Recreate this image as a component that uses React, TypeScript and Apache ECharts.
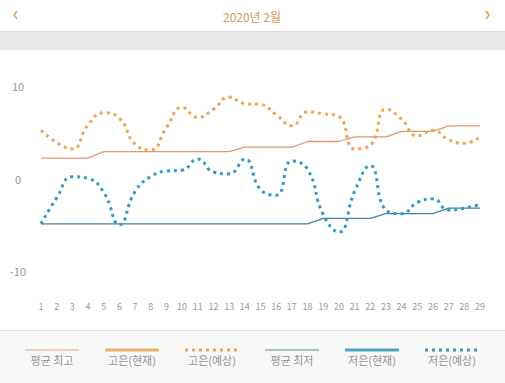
import React, { useEffect, useRef } from "react";
import * as echarts from "echarts";

const days = Array.from({ length: 29 }, (_, i) => String(i + 1));
const avgHigh = [2.2, 2.2, 2.2, 2.2, 2.9, 2.9, 2.9, 2.9, 2.9, 2.9, 2.9, 2.9, 2.9, 3.4, 3.4, 3.4, 3.4, 4.0, 4.0, 4.0, 4.5, 4.5, 4.5, 5.1, 5.1, 5.1, 5.7, 5.7, 5.7];
const highForecast = [5.2, 3.9, 3.2, 5.8, 7.1, 6.5, 3.7, 3.1, 5.5, 7.7, 6.6, 7.5, 8.8, 8.1, 8.0, 6.9, 5.7, 7.2, 7.0, 6.7, 3.2, 3.6, 7.5, 6.4, 4.6, 5.2, 4.2, 3.8, 4.5];
const avgLow = [-4.9, -4.9, -4.9, -4.9, -4.9, -4.9, -4.9, -4.9, -4.9, -4.9, -4.9, -4.9, -4.9, -4.9, -4.9, -4.9, -4.9, -4.9, -4.3, -4.3, -4.3, -4.3, -3.8, -3.8, -3.8, -3.8, -3.2, -3.2, -3.2];
const lowForecast = [-4.9, -2.1, 0.2, 0.0, -1.5, -5.0, -1.4, 0.2, 0.8, 0.9, 2.1, 0.7, 0.5, 2.1, -1.2, -1.8, 1.9, 1.0, -3.9, -5.8, -1.4, 1.4, -3.4, -3.8, -2.6, -2.2, -3.4, -3.2, -2.8];
const yTicks = [-10, 0, 10];
const title = "2020년 2월";
const legendNames = ["평균 최고", "고은(현재)", "고은(예상)", "평균 최저", "저은(현재)", "저은(예상)"];

const C_AVG_HIGH = "#e3956a";
const C_HIGH_NOW = "#e9b06d";
const C_HIGH_FC = "#eea450";
const C_AVG_LOW = "#4a819c";
const C_LOW_NOW = "#4aa6c0";
const C_LOW_FC = "#2f9bc9";

const FONT = "'Noto Sans CJK KR', Lato, sans-serif";

export default function App() {
  const ref = useRef<HTMLDivElement>(null);
  useEffect(() => {
    document.body.style.margin = "0";
    const chart = echarts.init(ref.current!, null, { renderer: "svg" });
    const legendStyles = [
      { color: "#e0a27e", width: 1.2, type: "solid" },
      { color: C_HIGH_NOW, width: 3, type: "solid" },
      { color: C_HIGH_FC, width: 3, type: "dotted" },
      { color: "#5a8598", width: 1.2, type: "solid" },
      { color: C_LOW_NOW, width: 3, type: "solid" },
      { color: "#3f9ab5", width: 3, type: "dotted" },
    ];
    const legendGraphics: any[] = [];
    legendNames.forEach((name, i) => {
      const cx = 52 + i * 80;
      const st = legendStyles[i];
      legendGraphics.push({
        type: "line",
        shape: { x1: cx - 27, y1: 350, x2: cx + 27, y2: 350 },
        style: {
          stroke: st.color,
          lineWidth: st.width,
          lineDash: st.type === "dotted" ? [3, 4] : null,
        },
        silent: true,
      });
      legendGraphics.push({
        type: "text",
        x: cx,
        y: 360,
        style: {
          text: name,
          fill: "#939393",
          font: `11px ${FONT}`,
          align: "center",
          verticalAlign: "middle",
        },
      });
    });
    chart.setOption({
      animation: false,
      backgroundColor: "#ffffff",
      grid: { left: 41, right: 25, top: 86, bottom: 112 },
      xAxis: {
        type: "category",
        data: days,
        boundaryGap: false,
        axisLine: { show: false },
        axisTick: { show: false },
        axisLabel: {
          interval: 0,
          margin: 31,
          color: "#9a9a9a",
          fontSize: 9,
          fontFamily: FONT,
        },
        splitLine: { show: false },
      },
      yAxis: {
        type: "value",
        min: yTicks[0],
        max: yTicks[yTicks.length - 1],
        interval: 10,
        axisLine: { show: false },
        axisTick: { show: false },
        splitLine: { show: false },
        axisLabel: {
          align: "center",
          margin: 23,
          color: "#999999",
          fontSize: 11,
          fontFamily: FONT,
        },
      },
      graphic: [
        { type: "rect", shape: { x: 0, y: 31, width: 505, height: 19 }, style: { fill: "#e9e9e9" }, silent: true },
        { type: "line", shape: { x1: 0, y1: 31.5, x2: 505, y2: 31.5 }, style: { stroke: "#d9d9d9", lineWidth: 1 }, silent: true },
        { type: "rect", shape: { x: 0, y: 330, width: 505, height: 53 }, style: { fill: "#f8f8f8" }, silent: true },
        { type: "line", shape: { x1: 0, y1: 330.5, x2: 505, y2: 330.5 }, style: { stroke: "#e6e6e6", lineWidth: 1 }, silent: true },
        {
          type: "text", x: 252, y: 16,
          style: { text: title, fill: "#d69a55", font: `12px ${FONT}`, align: "center", verticalAlign: "middle" },
        },
        {
          type: "polyline", shape: { points: [[17, 11], [14, 15], [17, 19]] },
          style: { stroke: "#dca665", lineWidth: 1.6, fill: null },
        },
        {
          type: "polyline", shape: { points: [[486, 11], [489, 15], [486, 19]] },
          style: { stroke: "#dca665", lineWidth: 1.6, fill: null },
        },
        ...legendGraphics,
      ],
      series: [
        {
          name: legendNames[0], type: "line", data: avgHigh, symbol: "none",
          lineStyle: { color: C_AVG_HIGH, width: 1.3 },
        },
        {
          name: legendNames[2], type: "line", data: highForecast, symbol: "none", smooth: 0.5,
          lineStyle: { color: C_HIGH_FC, width: 3, type: [3, 4] },
        },
        {
          name: legendNames[3], type: "line", data: avgLow, symbol: "none",
          lineStyle: { color: C_AVG_LOW, width: 1.3 },
        },
        {
          name: legendNames[5], type: "line", data: lowForecast, symbol: "none", smooth: 0.5,
          lineStyle: { color: C_LOW_FC, width: 3, type: [3, 4] },
        },
      ],
    });
    return () => chart.dispose();
  }, []);
  return <div ref={ref} style={{ width: 505, height: 383 }} />;
}
